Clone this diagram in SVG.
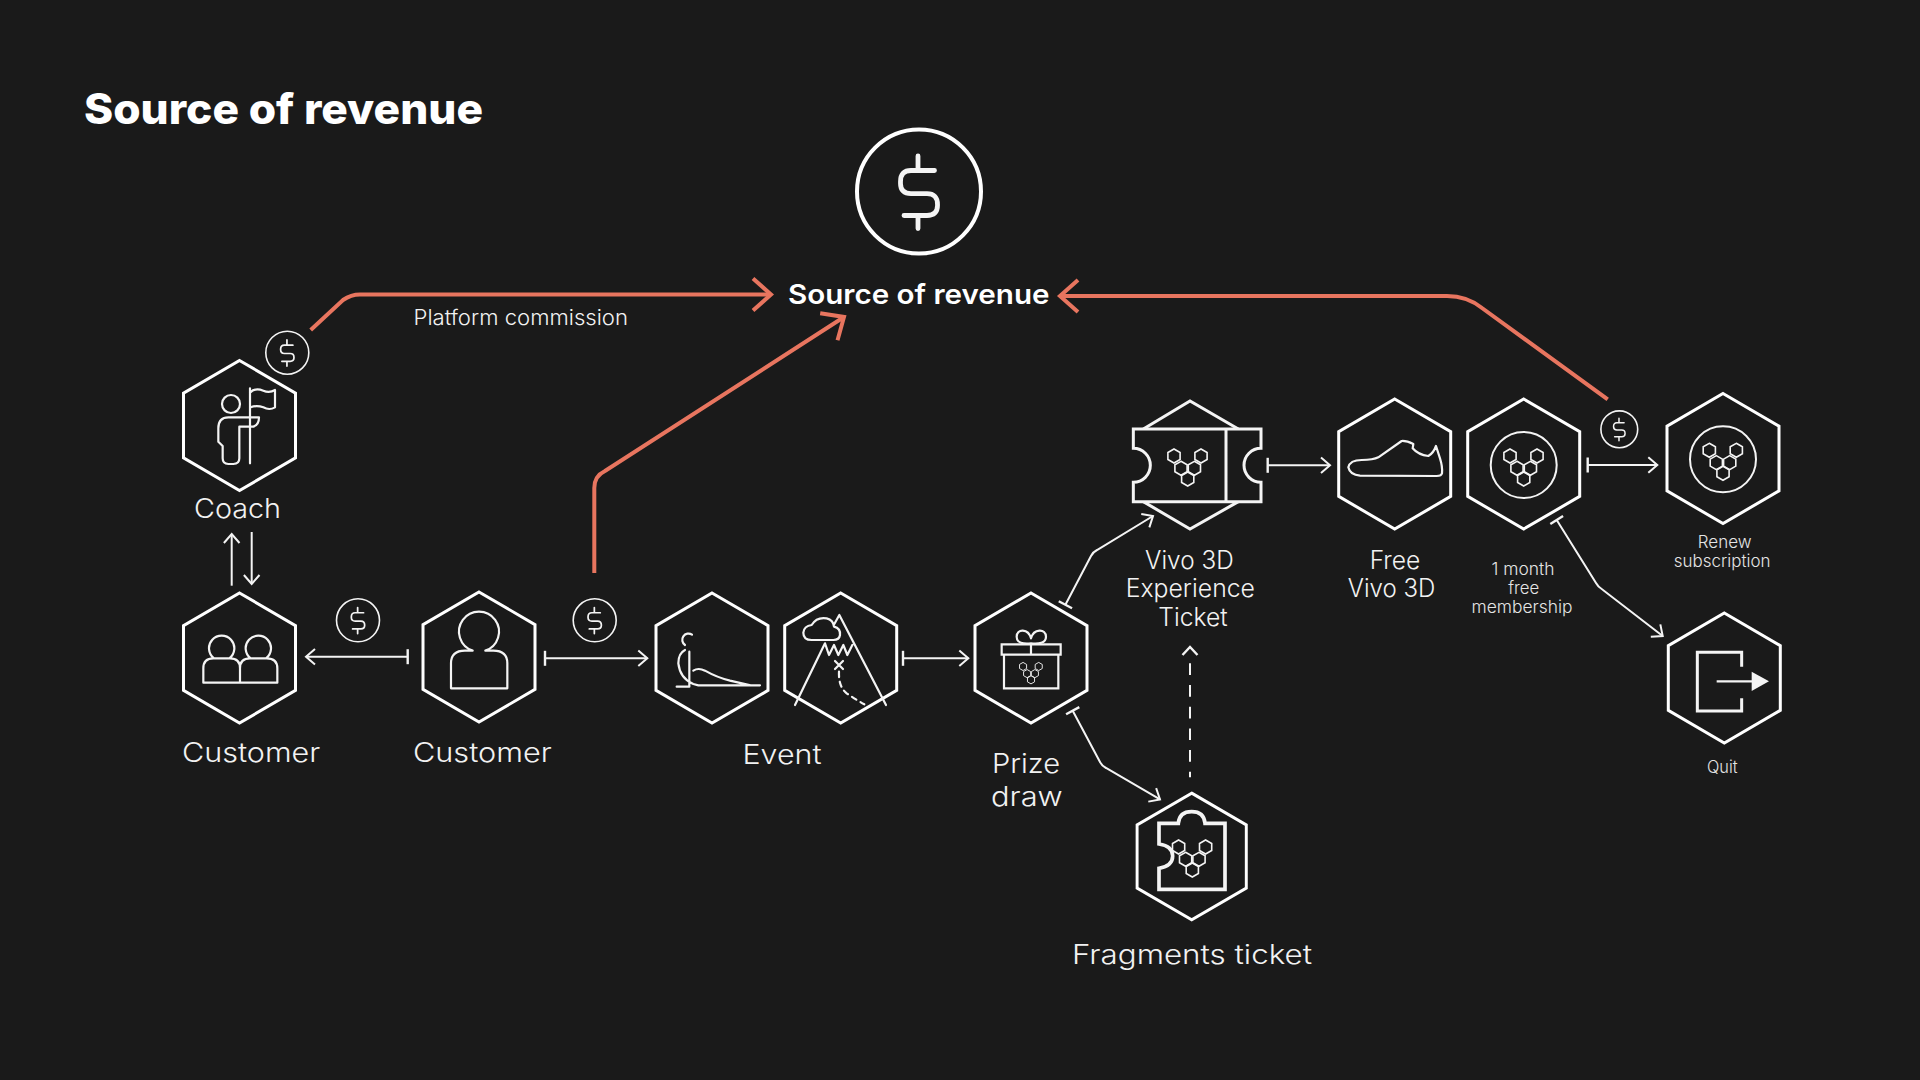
<svg xmlns="http://www.w3.org/2000/svg" width="1920" height="1080" viewBox="0 0 1920 1080">
<style>
text{font-family:Inter,"Open Sans","Liberation Sans",sans-serif;fill:#f2f2f2;font-weight:300}
.l{font-size:27px}
.m{font-size:25px}
.s{font-size:17px;fill:#e4e4e4}
.hex{fill:none;stroke:#fff;stroke-width:3}
.i{fill:none;stroke:#f4f4f4;stroke-width:6.6;stroke-linejoin:round;stroke-linecap:round}
.ti{fill:#1a1a1a;stroke:#f4f4f4;stroke-width:9;stroke-linejoin:miter}
.w{fill:none;stroke:#f4f4f4;stroke-width:2}
.o{fill:none;stroke:#e8755f;stroke-width:4}
.c{fill:none;stroke:#f4f4f4;stroke-width:1.6}
.d{fill:none;stroke:#f4f4f4;stroke-width:4.8;stroke-linecap:round}
.h{fill:none;stroke:#f4f4f4;stroke-width:1.6}
</style>
<defs>
<polygon id="hx" class="hex" points="0,-65 56,-32.4 56,32.4 0,65 -56,32.4 -56,-32.4"/>
<path id="dl" class="d" d="M15.5,-21H-8Q-18.5,-21 -18.5,-10V-8Q-18.5,2.2 -8,2.2H8Q18.5,2.2 18.5,13V14Q18.5,24 8,24H-15M-1,-35.5V-21M-1,24V37"/>
<polygon id="cell" class="h" points="0,-7 6.1,-3.5 6.1,3.5 0,7 -6.1,3.5 -6.1,-3.5"/>
<g id="comb">
<use href="#cell" x="-13.7" y="-9"/><use href="#cell" x="13.3" y="-9"/><use href="#cell" x="-6.7" y="3.3"/><use href="#cell" x="6.7" y="3.3"/><use href="#cell" x="0" y="14"/>
</g>
<marker id="ah" markerUnits="userSpaceOnUse" markerWidth="24" markerHeight="24" viewBox="-20 -12 24 24" refX="0" refY="0" orient="auto"><path d="M-9,-7.8L0,0L-9,7.8" fill="none" stroke="#f4f4f4" stroke-width="2"/></marker>
<marker id="tee" markerUnits="userSpaceOnUse" markerWidth="24" markerHeight="24" viewBox="-12 -12 24 24" refX="0" refY="0" orient="auto"><path d="M0,-7.5V7.5" fill="none" stroke="#f4f4f4" stroke-width="2.4"/></marker>
<marker id="oh" markerUnits="userSpaceOnUse" markerWidth="44" markerHeight="44" viewBox="-34 -22 44 44" refX="0" refY="0" orient="auto"><path d="M-18,-16L0,0L-18,16" fill="none" stroke="#e8755f" stroke-width="4"/></marker>
</defs>
<rect width="1920" height="1080" fill="#1a1a1a"/>
<text id="title" x="84" y="124" textLength="399" lengthAdjust="spacingAndGlyphs" style="font-size:42px;font-weight:800;fill:#fff">Source of revenue</text>

<g id="connectors">
<path class="o" marker-end="url(#oh)" d="M310.7,330L343,300Q351,294.5 360,294.5H771"/>
<path class="o" marker-end="url(#oh)" d="M594.3,573V488Q594.3,476 605,471L844,317"/>
<path class="o" marker-end="url(#oh)" d="M1607.7,399.3L1482,308Q1467,296 1447,296H1060"/>
<path class="w" marker-end="url(#ah)" d="M231.7,585.7V534"/>
<path class="w" marker-end="url(#ah)" d="M251.7,532V584"/>
<path class="w" marker-start="url(#tee)" marker-end="url(#ah)" d="M407.7,656.7H306"/>
<path class="w" marker-start="url(#tee)" marker-end="url(#ah)" d="M545,658.3H647.3"/>
<path class="w" marker-start="url(#tee)" marker-end="url(#ah)" d="M903,658.3H968.3"/>
<path class="w" marker-start="url(#tee)" marker-end="url(#ah)" d="M1065.4,604.7L1091,556Q1093,552 1097,550L1153,516"/>
<path class="w" marker-start="url(#tee)" marker-end="url(#ah)" d="M1072.7,710.7L1100,762Q1102,766 1106,768L1160,799.4"/>
<path class="w" d="M1190,663.3V777.3" stroke-dasharray="11.7 10"/>
<path class="w" d="M1182.5,655L1190,647L1197.5,655" style="stroke-width:2.4"/>
<path class="w" marker-start="url(#tee)" marker-end="url(#ah)" d="M1267.7,465.3H1330"/>
<path class="w" marker-start="url(#tee)" marker-end="url(#ah)" d="M1587.7,465H1657.3"/>
<path class="w" marker-start="url(#tee)" marker-end="url(#ah)" d="M1556.7,520L1596,583Q1598,587 1603,590L1662.7,636"/>
</g>

<g id="revenue">
<circle cx="919" cy="191.5" r="62" fill="none" stroke="#fff" stroke-width="4"/>
<use href="#dl" transform="translate(919 191.5)"/>
<text x="788" y="304" textLength="261.5" lengthAdjust="spacingAndGlyphs" style="font-size:27.5px;font-weight:600;fill:#fff">Source of revenue</text>
</g>
<text id="platform-commission" x="413.5" y="324.5" textLength="214.5" lengthAdjust="spacingAndGlyphs" style="font-size:21px">Platform commission</text>

<g id="badge1" transform="translate(287.3 352.7)"><circle class="c" r="21.5"/><use href="#dl" transform="scale(.36)"/></g>
<g id="badge2" transform="translate(358 620.3)"><circle class="c" r="21.5"/><use href="#dl" transform="scale(.36)"/></g>
<g id="badge3" transform="translate(594.7 620.3)"><circle class="c" r="21.5"/><use href="#dl" transform="scale(.36)"/></g>
<g id="badge4" transform="translate(1619.3 429.3)"><circle class="c" r="18.4"/><use href="#dl" transform="scale(.31)"/></g>

<g id="coach">
<use href="#hx" x="239.5" y="425.5"/>
<g transform="translate(150 300) scale(.33333)">
<circle class="i" cx="243" cy="312" r="27"/>
<path class="i" d="M300,265V490M300,278Q315,262 340,272Q358,280 375,270V322Q358,332 340,322Q320,315 302,322"/>
<path class="i" d="M327,352H235Q205,352 205,385V425L218,438V475Q218,492 235,492H250Q268,492 268,475V380H310Q327,375 327,352Z"/>
</g>
<text class="l" x="194" y="518" textLength="87" lengthAdjust="spacingAndGlyphs">Coach</text>
</g>

<g id="customer-group">
<use href="#hx" x="239.5" y="658"/>
<g transform="translate(150 300) scale(.33333)">
<path class="i" d="M192,1075A38,38 0 1 1 238,1075M160,1148V1105Q160,1075 190,1075H240Q270,1075 270,1105V1148ZM302,1075A38,38 0 1 1 348,1075M270,1148V1105Q270,1075 300,1075H350Q382,1075 382,1105V1148Z"/>
</g>
<text class="l" x="182" y="761.7" textLength="138.3" lengthAdjust="spacingAndGlyphs">Customer</text>
</g>

<g id="customer">
<use href="#hx" x="479" y="657"/>
<g transform="translate(150 300) scale(.33333)">
<path class="i" d="M968,1052A60,60 0 1 1 1006,1052M968,1052H945Q903,1052 903,1090V1165H1072V1090Q1072,1052 1030,1052H1006"/>
</g>
<text class="l" x="413" y="761.7" textLength="138.7" lengthAdjust="spacingAndGlyphs">Customer</text>
</g>

<g id="event">
<use href="#hx" x="712" y="658"/>
<use href="#hx" x="840.7" y="658"/>
<g transform="translate(630 560) scale(.33333)">
<path class="i" d="M186,224A18,18 0 1 0 165,255M165,270Q145,280 145,310Q150,355 190,372L205,376H390M178,275V380H140M190,332Q205,322 225,332Q260,352 300,362L362,376"/>
<path class="i" d="M495,435L585,250L597,285L612,255L625,285L640,255L652,285L667,255M768,435L628,165L613,192M545,240Q520,240 520,218Q522,198 545,195Q560,170 590,175Q610,180 612,200Q632,205 630,225Q628,240 610,240Z"/>
<path class="i" d="M615,303L639,327M639,303L615,327"/>
<path class="i" stroke-dasharray="16 14" d="M627,335Q625,380 650,400Q680,420 703,433"/>
</g>
<text class="l" x="742.5" y="764.4" textLength="79" lengthAdjust="spacingAndGlyphs">Event</text>
</g>

<g id="prize-draw">
<use href="#hx" x="1031" y="658"/>
<g transform="translate(630 560) scale(.33333)">
<path class="i" style="stroke-linejoin:miter" d="M1115,253H1292V284H1115ZM1122,284H1285V385H1122ZM1203,253V284"/>
<path class="i" d="M1203,250C1180,252 1160,250 1160,230C1160,205 1195,205 1203,235C1211,205 1248,205 1248,230C1248,250 1226,252 1203,250Z"/>
</g>
<use href="#comb" transform="translate(1031 671.7) scale(.58)"/>
<text class="l" x="992" y="773" textLength="68" lengthAdjust="spacingAndGlyphs">Prize</text>
<text class="l" x="991" y="806.4" textLength="71.7" lengthAdjust="spacingAndGlyphs">draw</text>
</g>

<g id="ticket">
<g transform="translate(1100 380) scale(.33333)">
<path class="i" style="stroke-width:9;stroke-linecap:butt;stroke-linejoin:miter" d="M130,147L270,63L415,147M130,365L270,447L415,365"/>
<path class="ti" d="M100,147H483V205A51,51 0 0 0 483,307V365H100V307A51,51 0 0 0 100,205ZM378,147V365"/>
</g>
<use href="#comb" transform="translate(1187.7 465)"/>
<text class="m" x="1145" y="569" textLength="88.7" lengthAdjust="spacingAndGlyphs">Vivo 3D</text>
<text class="m" x="1125.7" y="597.4" textLength="129.3" lengthAdjust="spacingAndGlyphs">Experience</text>
<text class="m" x="1158.3" y="626.4" textLength="69.4" lengthAdjust="spacingAndGlyphs">Ticket</text>
</g>

<g id="free-vivo">
<use href="#hx" x="1394.7" y="464"/>
<g transform="translate(1100 380) scale(.33333)">
<path class="i" d="M745,262Q750,240 785,240Q820,240 835,232L905,183Q920,182 940,192L938,205Q955,225 985,228Q1000,220 1008,198L1020,235Q1028,260 1026,280Q1024,288 1010,288L780,287Q750,285 745,262Z"/>
</g>
<text class="m" x="1369.7" y="569" textLength="50.6" lengthAdjust="spacingAndGlyphs">Free</text>
<text class="m" x="1347.7" y="597.4" textLength="87.6" lengthAdjust="spacingAndGlyphs">Vivo 3D</text>
</g>

<g id="membership">
<use href="#hx" x="1523.7" y="464"/>
<circle class="w" cx="1523.7" cy="465" r="33"/>
<use href="#comb" transform="translate(1523.7 465)"/>
<text class="s" x="1491.5" y="574.6" textLength="63" lengthAdjust="spacingAndGlyphs">1 month</text>
<text class="s" x="1508.2" y="593.6" textLength="31" lengthAdjust="spacingAndGlyphs">free</text>
<text class="s" x="1471.5" y="612.8" textLength="101" lengthAdjust="spacingAndGlyphs">membership</text>
</g>

<g id="renew">
<use href="#hx" x="1723" y="458.5"/>
<circle class="w" cx="1723" cy="459.3" r="33"/>
<use href="#comb" transform="translate(1723 459.3)"/>
<text class="s" x="1697.8" y="547.8" textLength="53.7" lengthAdjust="spacingAndGlyphs">Renew</text>
<text class="s" x="1673.8" y="566.8" textLength="96.7" lengthAdjust="spacingAndGlyphs">subscription</text>
</g>

<g id="quit">
<use href="#hx" x="1724.3" y="678"/>
<g transform="translate(1440 380) scale(.33333)">
<path class="i" style="stroke-width:9;stroke-linecap:butt;stroke-linejoin:miter" d="M905,860V817H772V993H905V955"/>
<path class="i" style="stroke-linecap:butt" d="M830,904H940"/>
<polygon points="935,875 987,904 935,933" fill="#f4f4f4"/>
</g>
<text class="s" x="1707" y="772.7" textLength="30.6" lengthAdjust="spacingAndGlyphs">Quit</text>
</g>

<g id="fragments">
<use href="#hx" transform="translate(1191.7 856.5) scale(.975)"/>
<g transform="translate(1090 780) scale(.33333)">
<path class="ti" style="fill:none;stroke-width:11" d="M207,130H265Q268,95 305,95Q342,95 345,130H405V328H207V265Q248,258 248,228Q248,198 207,192Z"/>
</g>
<use href="#comb" transform="translate(1192.3 856)"/>
<text class="l" x="1072" y="964" textLength="240" lengthAdjust="spacingAndGlyphs">Fragments ticket</text>
</g>
</svg>
